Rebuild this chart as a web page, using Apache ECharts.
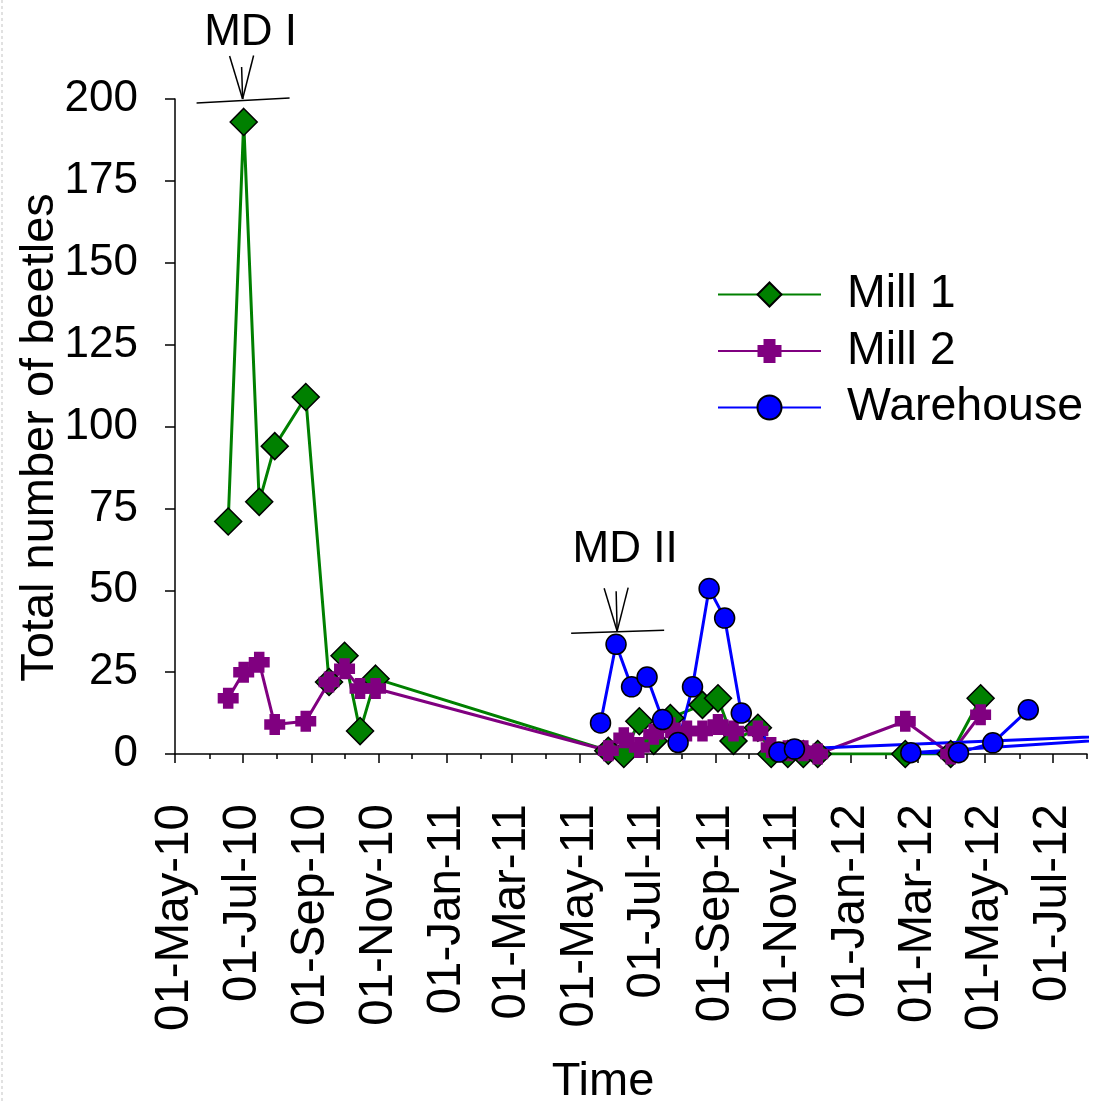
<!DOCTYPE html>
<html>
<head>
<meta charset="utf-8">
<script src="https://cdn.jsdelivr.net/npm/echarts@6/dist/echarts.min.js"></script>
<style>
  html, body { margin: 0; padding: 0; background: #fff; }
  #chart { width: 1095px; height: 1102px; }
</style>
</head>
<body>
<div id="chart"></div>
<script>
// Beetle trap counts per sampling date at three sites
const mill1Dates = ['2010-06-18', '2010-07-02', '2010-07-16', '2010-07-30', '2010-08-27', '2010-09-17',
  '2010-10-01', '2010-10-15', '2010-10-29', '2011-05-27', '2011-06-10', '2011-06-24', '2011-07-07',
  '2011-07-22', '2011-08-20', '2011-09-03', '2011-09-17', '2011-10-09', '2011-10-21', '2011-11-05',
  '2011-11-19', '2011-12-02', '2012-02-19', '2012-03-31', '2012-04-27'];
const mill1Counts = [71, 193, 77, 94, 109, 22, 30, 7, 23, 1, 0, 10, 4, 11, 15, 17, 4, 8, 0, 0, 0, 0, 0, 0, 17];

const mill2Dates = ['2010-06-18', '2010-07-02', '2010-07-16', '2010-07-30', '2010-08-27', '2010-09-17',
  '2010-10-01', '2010-10-15', '2010-10-29', '2011-05-27', '2011-06-10', '2011-06-24', '2011-07-07',
  '2011-07-22', '2011-08-06', '2011-08-20', '2011-09-03', '2011-09-17', '2011-10-09', '2011-10-21',
  '2011-11-05', '2011-11-19', '2011-12-02', '2012-02-19', '2012-03-31', '2012-04-27'];
const mill2Counts = [17, 25, 28, 9, 10, 22, 26, 20, 20, 1, 5, 2, 6, 8, 7, 7, 9, 7, 7, 2, 1, 1, 0, 10, 0, 12];

// Warehouse records, in the order they were entered
const warehouseDates = ['2011-05-20', '2011-06-03', '2011-06-17', '2011-07-01', '2011-07-15', '2011-07-29',
  '2011-08-11', '2011-08-26', '2011-09-09', '2011-09-24', '2011-10-28', '2011-11-11', '2012-12-15',
  '2012-02-24', '2012-04-07', '2012-05-08', '2012-06-09'];
const warehouseCounts = [9.5, 33.5, 20.5, 23.5, 10.5, 3.5, 20.5, 50.5, 41.5, 12.5, 0.6, 1.5, 7, 0.4, 0.4, 3.4, 13.5];

// Axis range and labelled dates
const axisStart = '2010-05-01';
const axisEnd = '2012-08-01';
const labelDates = ['2010-05-01', '2010-07-01', '2010-09-01', '2010-11-01', '2011-01-01', '2011-03-01',
  '2011-05-01', '2011-07-01', '2011-09-01', '2011-11-01', '2012-01-01', '2012-03-01', '2012-05-01', '2012-07-01'];
const yTicks = [0, 25, 50, 75, 100, 125, 150, 175, 200];

// Mass-disinfestation events
const mdLabels = ['MD I', 'MD II'];
const mdDates = ['2010-07-01', '2011-06-04'];
const mdLevels = [200, 37.5];

const FONT = '"Liberation Sans", Arial, sans-serif';
const MONTHS = ['Jan', 'Feb', 'Mar', 'Apr', 'May', 'Jun', 'Jul', 'Aug', 'Sep', 'Oct', 'Nov', 'Dec'];

function ts(s) {
  const p = s.split('-').map(Number);
  return new Date(p[0], p[1] - 1, p[2]).getTime();
}
function fmtDate(v) {
  const d = new Date(v);
  const dd = String(d.getDate()).padStart(2, '0');
  const yy = String(d.getFullYear() % 100).padStart(2, '0');
  return dd + '-' + MONTHS[d.getMonth()] + '-' + yy;
}

// first of every month along the axis
const monthTicks = [];
{
  const a = new Date(ts(axisStart));
  const end = ts(axisEnd);
  while (a.getTime() <= end) {
    monthTicks.push(a.getTime());
    a.setMonth(a.getMonth() + 1);
  }
}
const labelTicks = labelDates.map(ts);

const pairs = (dates, vals) => dates.map((d, i) => [ts(d), vals[i]]);

const crossPath = 'path://M2.5,0H7.5V2.5H10V7.5H7.5V10H2.5V7.5H0V2.5H2.5Z';

const chart = echarts.init(document.getElementById('chart'), null, { renderer: 'canvas' });

const axisLineStyle = { color: '#000', width: 1.5 };

chart.setOption({
  animation: false,
  backgroundColor: '#fff',
  grid: { left: 175, right: 8, top: 99, bottom: 348, containLabel: false, outerBoundsMode: 'none' },
  legend: {
    orient: 'vertical',
    left: 717,
    top: 271,
    padding: 0,
    itemWidth: 103,
    itemHeight: 30,
    itemGap: 9.5,
    textStyle: { fontSize: 46.5, lineHeight: 46, color: '#000', fontFamily: FONT, padding: [0, 0, 0, 21] },
    data: ['Mill 1', 'Mill 2', 'Warehouse']
  },
  xAxis: [{
    type: 'value',
    min: ts(axisStart),
    max: ts(axisEnd),
    name: 'Time',
    nameLocation: 'middle',
    nameGap: 305,
    nameMoveOverlap: false,
    nameTextStyle: { fontSize: 47, color: '#000', fontFamily: FONT, padding: [0, 56, 0, 0] },
    axisLine: { show: true, onZero: false, lineStyle: axisLineStyle },
    axisTick: { show: true, length: 9, customValues: labelTicks, lineStyle: axisLineStyle },
    axisLabel: {
      customValues: labelTicks,
      rotate: 90,
      margin: 50,
      fontSize: 47.5,
      color: '#000',
      fontFamily: FONT,
      padding: [5, 0, 0, 0],
      formatter: (v) => fmtDate(v)
    },
    splitLine: { show: false }
  }, {
    type: 'value',
    min: ts(axisStart),
    max: ts(axisEnd),
    position: 'bottom',
    axisLine: { show: false, onZero: false },
    axisTick: { show: true, length: 5, customValues: monthTicks, lineStyle: axisLineStyle },
    axisLabel: { show: false },
    splitLine: { show: false }
  }],
  yAxis: {
    type: 'value',
    min: 0,
    max: 200,
    interval: 25,
    name: 'Total number of beetles',
    nameLocation: 'middle',
    nameRotate: 90,
    nameGap: 111,
    nameMoveOverlap: false,
    nameTextStyle: { fontSize: 47, color: '#000', fontFamily: FONT, padding: [0, 22, 0, 0] },
    axisLine: { show: true, lineStyle: axisLineStyle },
    axisTick: { show: true, length: 10, customValues: yTicks, lineStyle: axisLineStyle },
    axisLabel: { fontSize: 44, margin: 37, color: '#000', fontFamily: FONT, customValues: yTicks },
    splitLine: { show: false }
  },
  series: [{
    name: 'Mill 1',
    type: 'line',
    data: pairs(mill1Dates, mill1Counts),
    symbol: 'diamond',
    symbolSize: 27,
    lineStyle: { color: '#008000', width: 3 },
    itemStyle: { color: '#008000', borderColor: '#000', borderWidth: 1.5 },
    emphasis: { disabled: true }
  }, {
    name: 'Mill 2',
    type: 'line',
    data: pairs(mill2Dates, mill2Counts),
    symbol: crossPath,
    symbolSize: 21,
    lineStyle: { color: '#800080', width: 3 },
    itemStyle: { color: '#800080', borderWidth: 0 },
    emphasis: { disabled: true }
  }, {
    name: 'Warehouse',
    type: 'line',
    data: pairs(warehouseDates, warehouseCounts),
    symbol: 'circle',
    symbolSize: 20,
    lineStyle: { color: '#0000FF', width: 3 },
    itemStyle: { color: '#0000FF', borderColor: '#000', borderWidth: 1.5 },
    emphasis: { disabled: true }
  }]
});

// Event markers: label, converging arrow and a bar above the affected point
function drawEvents() {
  const els = [];
  const textDy = [-66, -81];
  mdDates.forEach((d, i) => {
    const p = chart.convertToPixel({ xAxisIndex: 0, yAxisIndex: 0 }, [ts(d), mdLevels[i]]);
    const x = p[0], y = p[1];
    const ln = (x1, y1, x2, y2) => ({
      type: 'line', silent: true,
      shape: { x1: x + x1, y1: y + y1, x2: x + x2, y2: y + y2 },
      style: { stroke: '#000', lineWidth: 1.5 }
    });
    els.push(ln(-13, -43, 0, 0));
    els.push(ln(11, -43.5, 0, 0));
    els.push(ln(-1, i === 0 ? -32 : -40, 0, 0));
    els.push(ln(-46, i === 0 ? 4 : 2, 47, -1));
    els.push({
      type: 'text', silent: true,
      x: x + 8, y: y + textDy[i],
      style: { text: mdLabels[i], fontSize: 44, fontFamily: FONT, fill: '#000', align: 'center', verticalAlign: 'middle' }
    });
  });
  // faint dotted frame edge on the left
  els.push({
    type: 'line', silent: true,
    shape: { x1: 2, y1: 0, x2: 2, y2: 1102 },
    style: { stroke: '#d8d8d8', lineWidth: 1.5, lineDash: [3, 3] }
  });
  chart.setOption({ graphic: els });
}
drawEvents();
</script>
</body>
</html>
